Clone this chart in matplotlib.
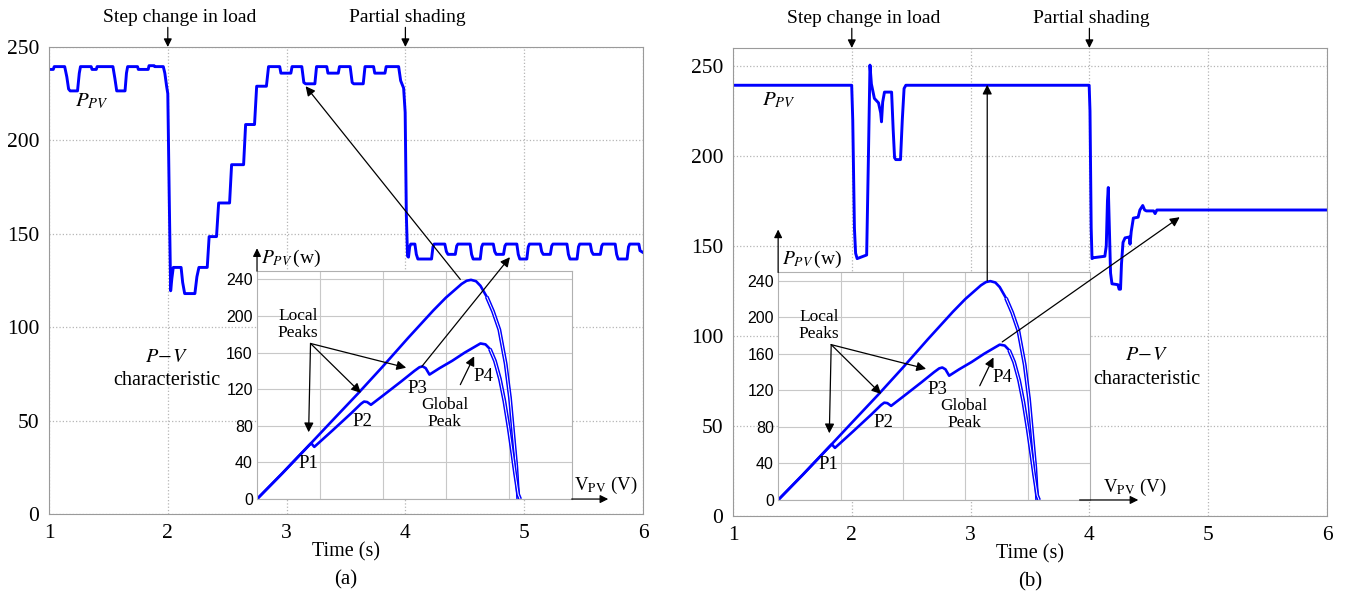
import matplotlib
matplotlib.use('Agg')
import matplotlib.pyplot as plt
from matplotlib.patches import ConnectionPatch

plt.rcParams['font.family'] = ['Liberation Serif', 'DejaVu Serif']
plt.rcParams['mathtext.fontset'] = 'stix'

# ---------------- data ----------------
time_ticks = [1, 2, 3, 4, 5, 6]
power_ticks = [0, 50, 100, 150, 200, 250]
pv_ticks = [0, 40, 80, 120, 160, 200, 240]
volt_grid = [10, 20, 30, 40]

# panel (a): P&O-type tracking, P_PV vs time
time_a = [1.000, 1.036, 1.044, 1.132, 1.150, 1.165, 1.178, 1.240, 1.255, 1.265,
          1.355, 1.362, 1.398, 1.405, 1.538, 1.555, 1.570, 1.640, 1.652, 1.662,
          1.745, 1.752, 1.835, 1.842, 1.885, 1.890, 1.962, 1.975, 1.990, 2.000,
          2.012, 2.024, 2.034, 2.046, 2.112, 2.125, 2.142, 2.228, 2.245, 2.262,
          2.332, 2.348, 2.410, 2.428, 2.520, 2.537, 2.638, 2.655, 2.730, 2.748,
          2.830, 2.848, 2.942, 2.952, 3.036, 3.046, 3.128, 3.145, 3.160, 3.238,
          3.252, 3.338, 3.348, 3.435, 3.445, 3.535, 3.552, 3.565, 3.645, 3.660,
          3.732, 3.742, 3.828, 3.838, 3.943, 3.960, 3.985, 3.998, 4.008, 4.018,
          4.026, 4.036, 4.045, 4.080, 4.092, 4.105, 4.220, 4.232, 4.242, 4.332,
          4.345, 4.358, 4.420, 4.432, 4.442, 4.545, 4.557, 4.570, 4.630, 4.642,
          4.652, 4.740, 4.752, 4.765, 4.826, 4.838, 4.848, 4.938, 4.950, 4.963,
          5.022, 5.034, 5.044, 5.135, 5.147, 5.160, 5.220, 5.232, 5.242, 5.360,
          5.372, 5.385, 5.445, 5.457, 5.467, 5.556, 5.568, 5.581, 5.641, 5.653,
          5.663, 5.766, 5.778, 5.791, 5.866, 5.878, 5.888, 5.965, 5.975, 6.000]
power_a = [238.0, 238.0, 239.5, 239.5, 234.0, 227.5, 226.5, 226.5, 236.0, 239.5,
           239.5, 238.0, 238.0, 239.5, 239.5, 233.0, 226.5, 226.5, 236.0, 239.5,
           239.5, 238.0, 238.0, 240.0, 240.0, 239.5, 239.5, 236.0, 229.0, 225.0,
           170.0, 119.5, 126.0, 132.0, 132.0, 124.0, 118.0, 118.0, 127.0, 132.0,
           132.0, 148.5, 148.5, 166.5, 166.5, 187.0, 187.0, 208.5, 208.5, 229.0,
           229.0, 239.5, 239.5, 236.0, 236.0, 239.5, 239.5, 231.0, 230.3, 230.3,
           239.5, 239.5, 236.0, 236.0, 239.5, 239.5, 231.0, 230.3, 230.3, 239.5,
           239.5, 236.0, 236.0, 239.5, 239.5, 232.0, 228.0, 215.0, 160.0, 138.0,
           137.5, 143.0, 144.5, 144.5, 139.0, 136.5, 136.5, 143.0, 144.5, 144.5,
           140.5, 139.0, 139.0, 143.5, 144.5, 144.5, 139.0, 136.5, 136.5, 143.0,
           144.5, 144.5, 140.5, 139.0, 139.0, 143.5, 144.5, 144.5, 139.0, 136.5,
           136.5, 143.0, 144.5, 144.5, 140.5, 139.0, 139.0, 143.5, 144.5, 144.5,
           139.0, 136.5, 136.5, 143.0, 144.5, 144.5, 140.5, 139.0, 139.0, 143.5,
           144.5, 144.5, 139.0, 136.5, 136.5, 143.0, 144.5, 144.5, 141.0, 140.0]

# panel (b): proposed tracking, P_PV vs time
time_b = [1.000, 1.999, 2.008, 2.022, 2.032, 2.045, 2.125, 2.140, 2.153, 2.165,
          2.190, 2.225, 2.243, 2.250, 2.260, 2.275, 2.335, 2.348, 2.360, 2.370,
          2.410, 2.425, 2.440, 2.455, 3.998, 4.005, 4.015, 4.022, 4.035, 4.130,
          4.142, 4.152, 4.159, 4.166, 4.178, 4.190, 4.240, 4.250, 4.262, 4.270,
          4.283, 4.300, 4.335, 4.342, 4.352, 4.370, 4.410, 4.425, 4.449, 4.465,
          4.480, 4.540, 4.553, 4.568, 6.000]
power_b = [239.3, 239.3, 220.0, 160.0, 146.0, 143.0, 145.0, 200.0, 250.5, 240.0,
           232.0, 229.5, 224.0, 219.0, 230.0, 235.5, 235.5, 215.0, 199.0, 198.0,
           198.0, 220.0, 237.5, 239.3, 239.3, 225.0, 160.0, 143.0, 143.5, 144.3,
           150.0, 175.0, 182.5, 165.0, 135.0, 129.0, 128.5, 126.0, 126.0, 140.0,
           152.0, 154.5, 155.0, 151.0, 158.0, 165.5, 166.0, 170.0, 172.5, 170.0,
           169.5, 169.5, 168.0, 170.0, 170.0]

# inset: P-V characteristics
v_uniform = [0, 4, 8.3, 12, 16, 20, 24, 28, 30, 31.5, 32.5, 33.3, 34, 34.8, 35.5,
             36.5, 37.5, 38.5, 39.5, 40.2, 40.8, 41.2, 41.5]
p_uniform = [0, 28, 59, 86, 115, 145, 176, 206, 220, 229, 235, 238.5, 239.5, 238,
             233, 221, 205, 185, 148, 110, 65, 35, 0]
v_shaded = [0, 4, 8.3, 8.6, 9.1, 12, 15, 16.5, 17.0, 17.5, 18.1, 20, 23, 25, 25.8,
            26.3, 26.8, 27.4, 29, 31, 33, 34.5, 35.5, 36.3, 37, 37.8, 38.6, 39.3,
            40.0, 40.5, 41.0, 41.5, 41.8]
p_shaded = [0, 28, 59, 61, 57, 75, 94, 104, 106.5, 106, 103, 113, 129, 140, 144,
            145, 143, 136, 143, 151, 160, 166, 170, 169, 164, 151, 131, 107, 77, 53,
            28, 5, 0]

BLUE = '#0000ff'
ARW = dict(arrowstyle='-|>', color='black', lw=0.9, mutation_scale=14,
           shrinkA=0, shrinkB=0)

fig = plt.figure(figsize=(13.49, 5.95), dpi=100)
axA = fig.add_axes([49 / 1349, 1 - 514 / 595, 594 / 1349, 467 / 595])
axB = fig.add_axes([733 / 1349, 1 - 516 / 595, 594 / 1349, 468 / 595])


def style_main(ax, top, tag):
    ax.set_xlim(1, 6)
    ax.set_ylim(0, top)
    ax.set_xticks(time_ticks)
    ax.set_yticks(power_ticks)
    ax.grid(True, color='#b5b5b5', ls=':', lw=0.9)
    for s in ax.spines.values():
        s.set_color('#9a9a9a')
        s.set_linewidth(0.8)
    ax.tick_params(length=0, labelsize=15.5, pad=7)
    ax.set_xlabel('Time (s)', fontsize=14.5, labelpad=0)
    ax.text(0.5, -0.14, tag, transform=ax.transAxes, ha='center', va='center',
            fontsize=15)
    tr = ax.get_xaxis_transform()
    for tx, lab_x, lab in [(2, 2.10, 'Step change in load'),
                           (4, 4.02, 'Partial shading')]:
        ax.annotate('', xy=(tx, 1.0), xycoords=tr, xytext=(tx, 1.042),
                    textcoords=tr, arrowprops=dict(ARW, mutation_scale=12))
        ax.text(lab_x, 1.064, lab, transform=tr, ha='center', va='center',
                fontsize=14)


def style_inset(ins, xarrow, xlabel_pos, yarrow_top):
    ins.set_xlim(0, 50)
    ins.set_ylim(0, 249)
    ins.set_xticks(volt_grid)
    ins.set_xticklabels([])
    ins.set_yticks(pv_ticks)
    ins.tick_params(length=0, labelsize=11.5, pad=3)
    for lab in ins.get_yticklabels():
        lab.set_fontfamily('Liberation Sans')
    ins.grid(True, color='#c8c8c8', lw=0.8)
    for s in ins.spines.values():
        s.set_color('#b0b0b0')
        s.set_linewidth(0.8)
    ins.plot(v_uniform, p_uniform, color=BLUE, lw=1.9)
    ins.plot(v_shaded, p_shaded, color=BLUE, lw=1.9)
    # falling branches are drawn as a doubled trace
    for vv, pp, k in [(v_uniform, p_uniform, 15), (v_shaded, p_shaded, 24)]:
        ins.plot(vv[k:], pp[k:], color=BLUE, lw=2.8, solid_capstyle='butt')
        ins.plot(vv[k:], pp[k:], color='white', lw=0.7, solid_capstyle='butt')
    # axis arrows
    ins.annotate('', xy=(xarrow[1], 0), xytext=(xarrow[0], 0),
                 arrowprops=dict(ARW, mutation_scale=12), annotation_clip=False)
    ins.annotate('', xy=(0, yarrow_top), xytext=(0, 249),
                 arrowprops=dict(ARW, mutation_scale=12), annotation_clip=False)
    ins.text(xlabel_pos[0], xlabel_pos[1], r'V$_{\mathrm{PV}}$ (V)', fontsize=13.5,
             ha='left', va='center', clip_on=False)
    ins.text(0.6, 263, r'$P_{PV}\,$(w)', fontsize=14, ha='left', va='center',
             clip_on=False)
    # peak annotations
    ins.text(6.5, 191, 'Local\nPeaks', fontsize=12.5, ha='center', va='center',
             linespacing=1.1)
    for tgt in [(8.2, 73), (16.5, 116), (23.7, 143.5)]:
        ins.annotate('', xy=tgt, xytext=(8.5, 170), arrowprops=dict(ARW))
    ins.text(8.1, 38.6, 'P1', fontsize=13.5, ha='center', va='center')
    ins.text(16.8, 84.6, 'P2', fontsize=13.5, ha='center', va='center')
    ins.text(25.5, 121.3, 'P3', fontsize=13.5, ha='center', va='center')
    ins.text(36.0, 133.5, 'P4', fontsize=13.5, ha='center', va='center')
    ins.annotate('', xy=(34.5, 156), xytext=(32.3, 125), arrowprops=dict(ARW))
    ins.text(29.8, 93.7, 'Global\nPeak', fontsize=12.5, ha='center', va='center',
             linespacing=1.1)


# ---------------- panel (a) ----------------
style_main(axA, 250, '(a)')
axA.plot(time_a, power_a, color=BLUE, lw=2.1)
axA.text(1.36, 221, r'$P_{PV}$', fontsize=15, ha='center', va='center')
axA.text(1.99, 84, r'$P\!-\!V$', fontsize=14.5, ha='center', va='center')
axA.text(1.99, 71.4, 'characteristic', fontsize=14.5, ha='center', va='center')
insA = axA.inset_axes([2.751, 8.0, 2.649, 122.0], transform=axA.transData)
style_inset(insA, (50, 55.8), (50.3, 14.5), 274)

# ---------------- panel (b) ----------------
style_main(axB, 260, '(b)')
axB.plot(time_b, power_b, color=BLUE, lw=2.1)
axB.text(1.39, 231, r'$P_{PV}$', fontsize=15, ha='center', va='center')
axB.text(4.48, 89, r'$P\!-\!V$', fontsize=14.5, ha='center', va='center')
axB.text(4.48, 76, 'characteristic', fontsize=14.5, ha='center', va='center')
insB = axB.inset_axes([1.38, 8.9, 2.627, 126.4], transform=axB.transData)
style_inset(insB, (48.3, 57.7), (52.0, 13.5), 296)

# ---------------- arrows from P-V curves to time traces ----------------
links = [(insA, axA, (32.3, 240), (3.16, 229)),
         (insA, axA, (26.2, 145), (4.88, 137.5)),
         (insB, axB, (33.5, 240), (3.14, 239.6)),
         (insB, axB, (35.9, 173), (4.76, 166))]
for ins, ax, pa, pb in links:
    con = ConnectionPatch(xyA=pa, coordsA=ins.transData, xyB=pb,
                          coordsB=ax.transData, arrowstyle='-|>', color='black',
                          lw=0.9, mutation_scale=14, shrinkA=0, shrinkB=0,
                          zorder=10)
    fig.add_artist(con)

fig.savefig('out.png', dpi=100)
